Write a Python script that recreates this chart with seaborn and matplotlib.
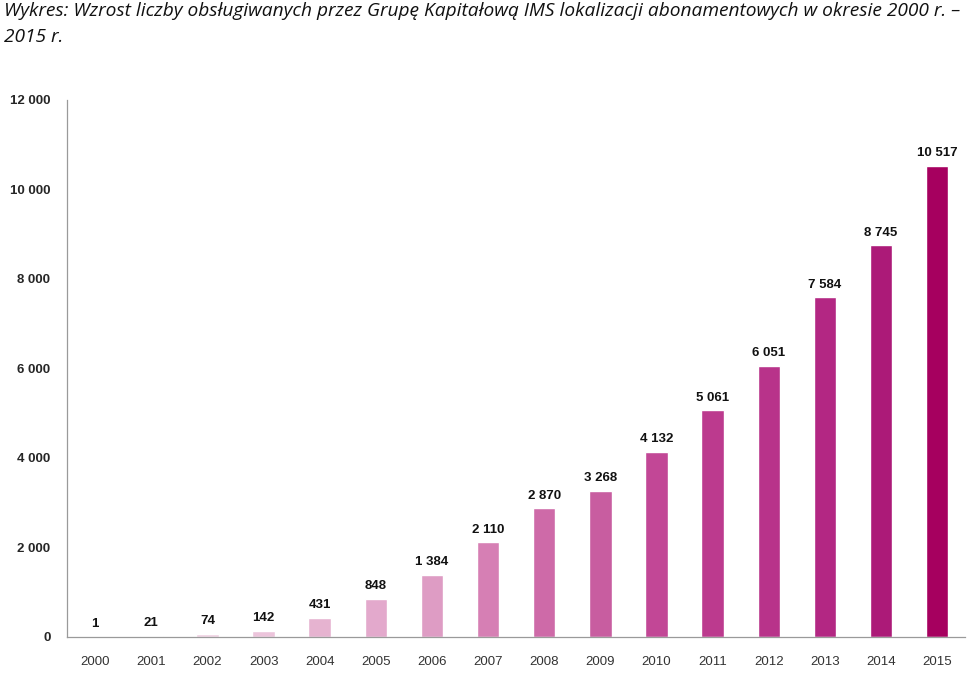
import seaborn as sns
import pandas as pd
import matplotlib.pyplot as plt
from matplotlib.ticker import FixedLocator, FuncFormatter

years = ['2000', '2001', '2002', '2003', '2004', '2005', '2006', '2007',
         '2008', '2009', '2010', '2011', '2012', '2013', '2014', '2015']
locations = [1, 21, 74, 142, 431, 848, 1384, 2110,
             2870, 3268, 4132, 5061, 6051, 7584, 8745, 10517]
bar_colors = ['#F5E1EC', '#F3DAE8', '#F0D0E2', '#ECC4DB', '#E6B3D0', '#E3A9CC',
              '#DE9CC4', '#D67FB4', '#CE6AA8', '#C85DA0', '#C24796', '#BC3A8E',
              '#B8338A', '#B32783', '#AC1A78', '#A6005F']
title = ('Wykres: Wzrost liczby obsługiwanych przez Grupę Kapitałową IMS '
         'lokalizacji abonamentowych w okresie 2000 r. –\n2015 r.')

sns.set_theme(style='white')
plt.rcParams['font.family'] = ['Liberation Sans', 'DejaVu Sans']

df = pd.DataFrame({'Rok': years, 'Liczba': locations})

fig = plt.figure(figsize=(9.73, 6.74), dpi=100)
ax = fig.add_axes([0.069, 0.055, 0.923, 0.797])

sns.barplot(data=df, x='Rok', y='Liczba', hue='Rok', palette=bar_colors,
            width=0.4, legend=False, saturation=1, ax=ax)

# value labels
for i, v in enumerate(locations):
    ax.text(i, v + 150, f'{v:,}'.replace(',', ' '), ha='center', va='bottom',
            fontsize=9.5, fontweight='bold', color='#111111')

ax.set_xlim(-0.5, 15.5)
ax.set_ylim(0, 12000)
ax.set_yticks(range(0, 12001, 2000))
ax.yaxis.set_major_formatter(FuncFormatter(lambda v, p: f'{int(v):,}'.replace(',', ' ')))
ax.set_xlabel('')
ax.set_ylabel('')

sns.despine(ax=ax)
for s in ['left', 'bottom']:
    ax.spines[s].set_color('#9a9a9a')
    ax.spines[s].set_linewidth(0.9)

ax.tick_params(axis='y', which='major', direction='out', length=5, width=0.8,
               color='#9a9a9a', labelsize=9.5, pad=7)
for lbl in ax.get_yticklabels():
    lbl.set_fontweight('bold')
ax.tick_params(axis='x', which='major', length=0, labelsize=9.5,
               labelcolor='#333333', pad=14)
ax.xaxis.set_minor_locator(FixedLocator([i + 0.5 for i in range(-1, 16)]))
ax.tick_params(axis='x', which='minor', direction='out', length=5, width=0.8,
               color='#9a9a9a')

fig.text(0.004, 0.997, title, ha='left', va='top', fontsize=13.8,
         style='italic', family=['Open Sans', 'DejaVu Sans'], color='#111111',
         linespacing=1.55)

fig.savefig('out.png', dpi=100)
